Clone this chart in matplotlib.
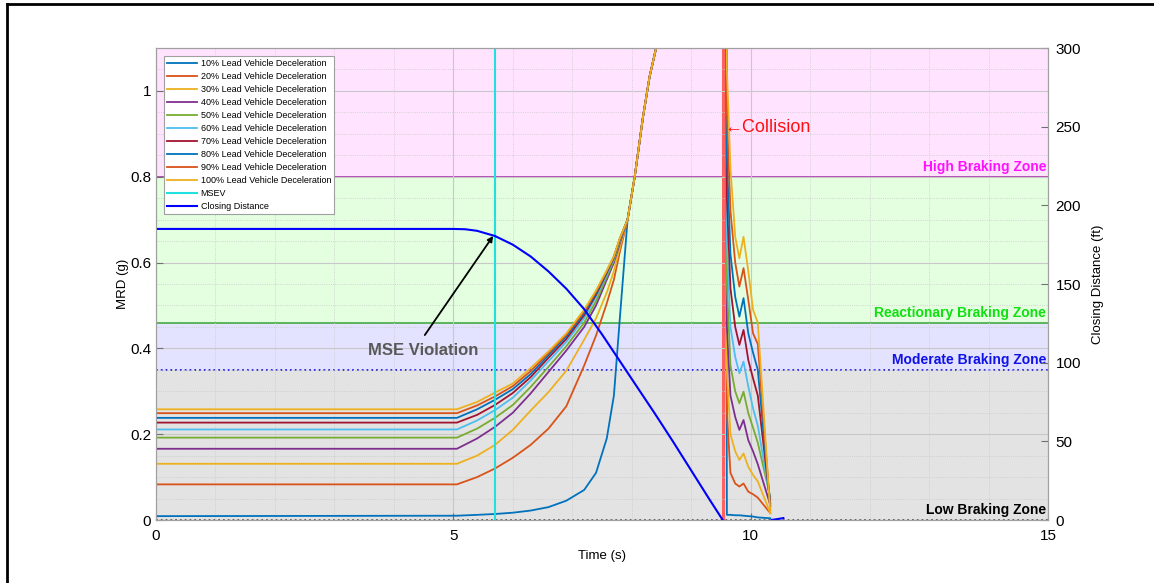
import numpy as np
import matplotlib.pyplot as plt
from matplotlib.lines import Line2D

plt.rcParams['font.family'] = ['Liberation Sans', 'DejaVu Sans']

# ---- data ----
labels = [f"{p}% Lead Vehicle Deceleration" for p in range(10, 101, 10)]
colors = ['#0072BD', '#D95319', '#EDB120', '#7E2F8E', '#77AC30',
          '#4DBEEE', '#A2142F', '#0072BD', '#D95319', '#EDB120']

# approach phase (time grid shared by every curve)
t_rise = [0, 5.06, 5.4, 5.7, 6.0, 6.3, 6.6, 6.9, 7.2, 7.4, 7.58, 7.7, 7.8, 7.93]
mrd_rise = [
    [0.009, 0.010, 0.012, 0.014, 0.017, 0.022, 0.030, 0.045, 0.070, 0.110, 0.190, 0.290, 0.470, 0.70],
    [0.083, 0.083, 0.100, 0.120, 0.145, 0.175, 0.213, 0.265, 0.360, 0.430, 0.505, 0.560, 0.625, 0.70],
    [0.131, 0.131, 0.150, 0.175, 0.210, 0.255, 0.298, 0.348, 0.420, 0.470, 0.530, 0.580, 0.635, 0.70],
    [0.166, 0.166, 0.190, 0.217, 0.250, 0.295, 0.345, 0.395, 0.450, 0.500, 0.560, 0.600, 0.645, 0.70],
    [0.192, 0.192, 0.213, 0.238, 0.268, 0.310, 0.357, 0.405, 0.460, 0.510, 0.566, 0.605, 0.650, 0.70],
    [0.211, 0.211, 0.232, 0.256, 0.285, 0.325, 0.370, 0.415, 0.470, 0.520, 0.572, 0.610, 0.652, 0.70],
    [0.227, 0.227, 0.245, 0.268, 0.296, 0.333, 0.378, 0.422, 0.477, 0.525, 0.576, 0.612, 0.654, 0.70],
    [0.238, 0.238, 0.258, 0.280, 0.305, 0.340, 0.384, 0.428, 0.482, 0.529, 0.578, 0.613, 0.655, 0.70],
    [0.249, 0.249, 0.267, 0.288, 0.312, 0.347, 0.389, 0.432, 0.486, 0.532, 0.580, 0.614, 0.656, 0.70],
    [0.258, 0.258, 0.275, 0.297, 0.318, 0.354, 0.393, 0.435, 0.490, 0.535, 0.582, 0.615, 0.657, 0.70],
]

# common bundle after the curves merge, running off the top until collision
t_bundle = [8.05, 8.19, 8.30, 8.41, 8.60, 9.56]
mrd_bundle = [0.80, 0.94, 1.033, 1.10, 1.40, 3.0]

# post-collision phase
t_post = [9.60, 9.66, 9.74, 9.81, 9.88, 9.96, 10.04, 10.12, 10.33]
mrd_post = [
    [0.012, 0.012, 0.011, 0.011, 0.010, 0.009, 0.008, 0.006, 0.004],
    [0.250, 0.110, 0.085, 0.078, 0.085, 0.066, 0.060, 0.052, 0.016],
    [0.350, 0.200, 0.160, 0.140, 0.155, 0.124, 0.105, 0.090, 0.016],
    [0.450, 0.290, 0.240, 0.210, 0.233, 0.186, 0.160, 0.130, 0.035],
    [0.550, 0.360, 0.300, 0.272, 0.299, 0.249, 0.215, 0.180, 0.054],
    [0.650, 0.450, 0.380, 0.342, 0.369, 0.311, 0.260, 0.220, 0.047],
    [0.750, 0.540, 0.450, 0.408, 0.443, 0.373, 0.330, 0.290, 0.039],
    [0.850, 0.620, 0.520, 0.474, 0.517, 0.435, 0.390, 0.350, 0.031],
    [0.950, 0.720, 0.600, 0.544, 0.587, 0.513, 0.435, 0.410, 0.023],
    [1.050, 0.820, 0.660, 0.610, 0.660, 0.580, 0.490, 0.460, 0.016],
]

# closing distance (ft)
t_close = [0, 5.0, 5.2, 5.4, 5.7, 6.0, 6.3, 6.6, 6.9, 7.2, 7.5, 7.8, 8.1, 8.4,
           8.7, 9.0, 9.3, 9.53, 9.60, 10.30, 10.35, 10.55]
dist_close = [185, 185, 184.8, 183.8, 180.5, 175, 167.5, 158, 147, 134, 118, 101, 84, 67,
              49.5, 31.5, 13.5, 0, -2, -2, 0, 1.2]

msev_time = 5.70
collision_time = 9.54

zone_edges = [0, 0.35, 0.46, 0.80, 1.1]
zone_fill = ['#E3E3E3', '#E3E3FF', '#E3FFE0', '#FFE3FF']
zone_line = ['#555555', '#2020E0', '#50B050', '#B040B0']
zone_names = ['Low Braking Zone', 'Moderate Braking Zone',
              'Reactionary Braking Zone', 'High Braking Zone']
zone_text_colors = ['black', '#1010E8', '#10E010', '#FF10FF']

# ---- figure ----
fig = plt.figure(figsize=(11.54, 5.83), dpi=100)
ax = fig.add_axes([156/1154, 1-520/583, (1048-156)/1154, (520-48)/583])

for i in range(4):
    ax.axhspan(zone_edges[i], zone_edges[i+1], color=zone_fill[i], zorder=0, lw=0)
for i in range(4):
    ls = ':' if i < 2 else '-'
    ax.axhline(zone_edges[i], color=zone_line[i], lw=1.3, ls=ls, zorder=1)
    ax.text(14.97, zone_edges[i] + 0.007, zone_names[i], color=zone_text_colors[i],
            fontsize=10, fontweight='bold', ha='right', va='bottom', zorder=6)

handles = []
for i in range(10):
    t = t_rise + t_bundle + t_post
    y = mrd_rise[i] + mrd_bundle + mrd_post[i]
    h, = ax.plot(t, y, color=colors[i], lw=1.3, zorder=3, label=labels[i])
    handles.append(h)

ax.axvline(collision_time, color='#FF6060', lw=2.2, zorder=2.5)
h_msev = ax.axvline(msev_time, color='#20E0E0', lw=1.5, zorder=4, label='MSEV')
handles.append(h_msev)

ax.set_xlim(0, 15)
ax.set_ylim(0, 1.1)
ax.set_xticks([0, 5, 10, 15])
ax.set_yticks([0, 0.2, 0.4, 0.6, 0.8, 1.0])
ax.set_yticklabels(['0', '0.2', '0.4', '0.6', '0.8', '1'])
ax.set_xticks(np.arange(0, 16, 1), minor=True)
ax.set_yticks(np.arange(0, 1.1, 0.05), minor=True)
ax.grid(True, which='major', color='#C8C8C8', lw=0.8, zorder=1)
ax.grid(True, which='minor', color='#C8C8C8', lw=0.6, ls=':', zorder=1)
ax.set_axisbelow(False)
ax.tick_params(which='major', direction='in', length=5, color='#707070', labelsize=11)
ax.tick_params(axis='x', which='major', pad=6.5)
ax.tick_params(which='minor', length=0)
ax.set_xlabel('Time (s)', fontsize=9.5, labelpad=5)
ax.set_ylabel('MRD (g)', fontsize=9.5, labelpad=1)
for s in ax.spines.values():
    s.set_color('#A0A0A0')

ax.annotate('', xy=(5.67, 0.662), xytext=(4.52, 0.431),
            arrowprops=dict(arrowstyle='-|>', color='black', lw=1.3,
                            shrinkA=0, shrinkB=0, mutation_scale=8), zorder=7)
ax.text(4.49, 0.394, 'MSE Violation', fontsize=12, fontweight='bold', color='#595959',
        ha='center', va='center', zorder=7)
ax.text(9.555, 0.914, '\u2190Collision', color='#FF1010', fontsize=13,
        ha='left', va='center', zorder=7)

ax2 = ax.twinx()
h_cd, = ax2.plot(t_close, dist_close, color='#0000FF', lw=1.5, label='Closing Distance')
handles.append(h_cd)
ax2.set_ylim(0, 300)
ax2.set_yticks(np.arange(0, 301, 50))
ax2.tick_params(direction='in', length=5, color='#707070', labelsize=11, pad=5.5)
ax2.set_ylabel('Closing Distance (ft)', fontsize=9.5, labelpad=8)
for s in ax2.spines.values():
    s.set_color('#A0A0A0')

leg = ax2.legend(handles=handles, loc='upper left', fontsize=6.5, frameon=True,
                 fancybox=False, edgecolor='#A0A0A0', framealpha=1,
                 handlelength=3.3, labelspacing=0.44, borderpad=0.35,
                 handletextpad=0.4, bbox_to_anchor=(0.004, 0.992))
leg.get_frame().set_linewidth(0.8)

# outer frame of the original figure
fig.add_artist(Line2D([7/1154, 7/1154], [0, 1-4/583], color='black', lw=2))
fig.add_artist(Line2D([7/1154, 1], [1-4/583, 1-4/583], color='black', lw=2))

fig.savefig('out.png', dpi=100)
